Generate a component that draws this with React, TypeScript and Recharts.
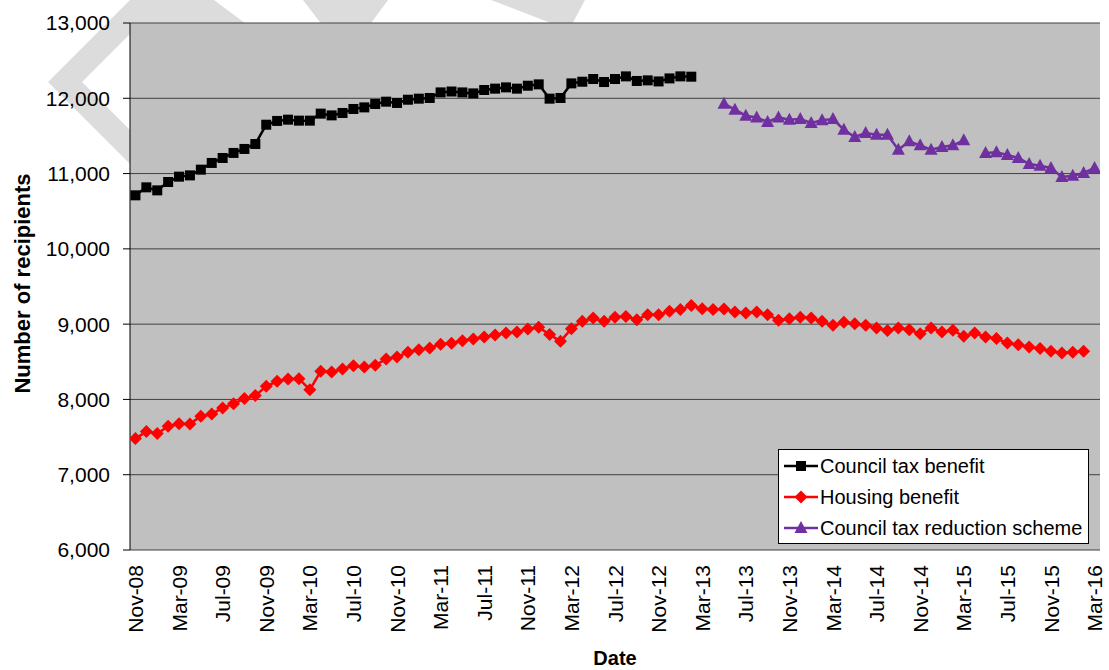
import React from 'react';
import { LineChart, Line, XAxis, YAxis, CartesianGrid, Legend } from 'recharts';

const months = [
  'Nov-08', 'Dec-08',
  'Jan-09', 'Feb-09', 'Mar-09', 'Apr-09', 'May-09', 'Jun-09', 'Jul-09', 'Aug-09', 'Sep-09', 'Oct-09', 'Nov-09', 'Dec-09',
  'Jan-10', 'Feb-10', 'Mar-10', 'Apr-10', 'May-10', 'Jun-10', 'Jul-10', 'Aug-10', 'Sep-10', 'Oct-10', 'Nov-10', 'Dec-10',
  'Jan-11', 'Feb-11', 'Mar-11', 'Apr-11', 'May-11', 'Jun-11', 'Jul-11', 'Aug-11', 'Sep-11', 'Oct-11', 'Nov-11', 'Dec-11',
  'Jan-12', 'Feb-12', 'Mar-12', 'Apr-12', 'May-12', 'Jun-12', 'Jul-12', 'Aug-12', 'Sep-12', 'Oct-12', 'Nov-12', 'Dec-12',
  'Jan-13', 'Feb-13', 'Mar-13', 'Apr-13', 'May-13', 'Jun-13', 'Jul-13', 'Aug-13', 'Sep-13', 'Oct-13', 'Nov-13', 'Dec-13',
  'Jan-14', 'Feb-14', 'Mar-14', 'Apr-14', 'May-14', 'Jun-14', 'Jul-14', 'Aug-14', 'Sep-14', 'Oct-14', 'Nov-14', 'Dec-14',
  'Jan-15', 'Feb-15', 'Mar-15', 'Apr-15', 'May-15', 'Jun-15', 'Jul-15', 'Aug-15', 'Sep-15', 'Oct-15', 'Nov-15', 'Dec-15',
  'Jan-16', 'Feb-16', 'Mar-16',
];

const tickLabels = [
  'Nov-08', 'Mar-09', 'Jul-09', 'Nov-09', 'Mar-10', 'Jul-10', 'Nov-10', 'Mar-11', 'Jul-11', 'Nov-11', 'Mar-12',
  'Jul-12', 'Nov-12', 'Mar-13', 'Jul-13', 'Nov-13', 'Mar-14', 'Jul-14', 'Nov-14', 'Mar-15', 'Jul-15', 'Nov-15', 'Mar-16',
];

const yTicks = [6000, 7000, 8000, 9000, 10000, 11000, 12000, 13000];

// Council tax benefit: Nov-08 .. Feb-13
const councilTaxBenefitStart = 'Nov-08';
const councilTaxBenefit = [
  10711, 10817, 10777, 10888, 10959, 10976, 11052, 11141, 11207, 11274, 11327, 11393,
  11649, 11699, 11716, 11703, 11703, 11796, 11773, 11805, 11858, 11879, 11924, 11955,
  11938, 11981, 11995, 12004, 12078, 12090, 12078, 12065, 12110, 12128, 12145, 12128,
  12167, 12185, 11995, 12004, 12198, 12220, 12256, 12216, 12256, 12291, 12230, 12238,
  12224, 12264, 12291, 12287,
];

// Housing benefit: Nov-08 .. Feb-16
const housingBenefitStart = 'Nov-08';
const housingBenefit = [
  7480, 7573, 7546, 7643, 7678, 7675, 7776, 7807, 7887, 7944, 8011, 8051,
  8174, 8241, 8272, 8276, 8130, 8373, 8365, 8405, 8449, 8431, 8453, 8538,
  8564, 8626, 8661, 8683, 8732, 8745, 8781, 8804, 8830, 8856, 8883, 8896,
  8936, 8958, 8861, 8772, 8940, 9037, 9082, 9037, 9090, 9103, 9060, 9126,
  9126, 9170, 9193, 9246, 9206, 9193, 9202, 9162, 9149, 9162, 9126, 9051,
  9073, 9090, 9082, 9037, 8984, 9024, 9006, 8984, 8950, 8914, 8950, 8927,
  8874, 8950, 8897, 8918, 8838, 8883, 8830, 8808, 8750, 8727, 8697, 8675,
  8639, 8617, 8626, 8639,
];

// Council tax reduction scheme: May-13 .. Mar-16 (no figure for Apr-15)
const ctrsStart = 'May-13';
const councilTaxReduction = [
  11928, 11849, 11769, 11746, 11685, 11746, 11716, 11725, 11672, 11707, 11725, 11583,
  11486, 11539, 11517, 11517, 11317, 11428, 11375, 11317, 11353, 11375, 11441, null,
  11274, 11282, 11247, 11207, 11128, 11105, 11074, 10955, 10972, 11008, 11074,
];

const seriesAt = (arr: (number | null)[], start: string, i: number) => {
  const k = i - months.indexOf(start);
  if (k < 0 || k >= arr.length) return null;
  return arr[k];
};

const data = months.map((m, i) => ({
  i,
  month: m,
  ctb: seriesAt(councilTaxBenefit, councilTaxBenefitStart, i),
  hb: seriesAt(housingBenefit, housingBenefitStart, i),
  ctrs: seriesAt(councilTaxReduction, ctrsStart, i),
}));

const labelIdx = tickLabels.map((l) => months.indexOf(l));
const edgeIdx = labelIdx.map((v) => v - 0.5);
const xDomain = [-0.5, months.length - 0.5];

const FONT = 'Liberation Sans, Arial, Helvetica, sans-serif';
const BLACK = '#000000';
const RED = '#FF0000';
const PURPLE = '#7030A0';

const SquareDot = (p: any) => {
  const { cx, cy, value } = p;
  if (cx == null || cy == null || value == null) return null;
  const s = 10;
  return <rect key={p.key} x={cx - s / 2} y={cy - s / 2} width={s} height={s} fill={BLACK} />;
};

const DiamondDot = (p: any) => {
  const { cx, cy, value } = p;
  if (cx == null || cy == null || value == null) return null;
  const r = 6.5;
  return (
    <polygon
      key={p.key}
      points={`${cx},${cy - r} ${cx + r},${cy} ${cx},${cy + r} ${cx - r},${cy}`}
      fill={RED}
    />
  );
};

const TriangleDot = (p: any) => {
  const { cx, cy, value } = p;
  if (cx == null || cy == null || value == null) return null;
  const w = 6.5;
  return (
    <polygon
      key={p.key}
      points={`${cx},${cy - 7} ${cx + w},${cy + 5} ${cx - w},${cy + 5}`}
      fill={PURPLE}
    />
  );
};

const EmptyTick = () => <g />;

const RotTick = (p: any) => {
  const { x, y, payload } = p;
  const label = months[Math.round(payload.value)];
  return (
    <text
      x={x}
      y={y}
      transform={`rotate(-90 ${x} ${y})`}
      textAnchor="end"
      dy="0.36em"
      fontSize={21}
      fill="#000"
      fontFamily={FONT}
    >
      {label}
    </text>
  );
};

const YLabel = (p: any) => {
  const vb = p.viewBox || {};
  const cx = 30;
  const cy = vb.y + vb.height / 2 - 3;
  return (
    <text
      x={cx}
      y={cy}
      transform={`rotate(-90 ${cx} ${cy})`}
      textAnchor="middle"
      fontSize={22}
      fontWeight="bold"
      fill="#000"
      fontFamily={FONT}
    >
      Number of recipients
    </text>
  );
};

const XLabel = (p: any) => {
  const vb = p.viewBox || {};
  return (
    <text
      x={vb.x + vb.width / 2}
      y={665}
      textAnchor="middle"
      fontSize={20}
      fontWeight="bold"
      fill="#000"
      fontFamily={FONT}
    >
      Date
    </text>
  );
};

const legendItems = [
  { name: 'Council tax benefit', color: BLACK, shape: 'square' },
  { name: 'Housing benefit', color: RED, shape: 'diamond' },
  { name: 'Council tax reduction scheme', color: PURPLE, shape: 'triangle' },
];

const LegendMarker = ({ color, shape }: { color: string; shape: string }) => (
  <svg width={34} height={20} style={{ display: 'block' }}>
    <line x1={0} y1={10} x2={34} y2={10} stroke={color} strokeWidth={2.5} />
    {shape === 'square' && <rect x={12} y={5} width={10} height={10} fill={color} />}
    {shape === 'diamond' && <polygon points="17,3.5 23.5,10 17,16.5 10.5,10" fill={color} />}
    {shape === 'triangle' && <polygon points="17,3 23.5,15 10.5,15" fill={color} />}
  </svg>
);

const renderLegend = () => (
  <div
    style={{
      width: 311,
      height: 95,
      boxSizing: 'border-box',
      border: '1px solid #000',
      background: '#fff',
      paddingLeft: 5,
      fontFamily: FONT,
      fontSize: 20,
      color: '#000',
    }}
  >
    {legendItems.map((it) => (
      <div key={it.name} style={{ display: 'flex', alignItems: 'center', height: 31, whiteSpace: 'nowrap' }}>
        <LegendMarker color={it.color} shape={it.shape} />
        <span style={{ marginLeft: 2, lineHeight: '20px' }}>{it.name}</span>
      </div>
    ))}
  </div>
);

const Watermark = () => (
  <svg
    width={1109}
    height={670}
    style={{ position: 'absolute', left: 0, top: 0 }}
  >
    <g fill="#dcdcdc">
      <polygon points="48,82 130,0 164,0 82,82 202,202 168,202" />
      <polygon points="140,0 214,0 254,30 112,30" />
      <polygon points="303,0 388,0 366,30 326,30" />
      <polygon points="491,0 585,0 569,30" />
    </g>
  </svg>
);

export default function App() {
  return (
    <div style={{ position: 'absolute', left: 0, top: 0, width: 1109, height: 670, background: '#fff' }}>
      <Watermark />
      <div style={{ position: 'absolute', left: 0, top: 0 }}>
        <LineChart
          width={1109}
          height={670}
          data={data}
          margin={{ top: 23, right: 9, bottom: 0, left: 0 }}
        >
          <CartesianGrid
            xAxisId="edges"
            horizontal
            vertical={false}
            stroke="#404040"
            fill="#C0C0C0"
            fillOpacity={1}
          />
          <XAxis
            xAxisId="edges"
            type="number"
            dataKey="i"
            domain={xDomain}
            ticks={edgeIdx}
            allowDataOverflow
            height={0}
            tick={EmptyTick}
            tickSize={6}
            tickLine={{ stroke: '#000' }}
            axisLine={{ stroke: '#000' }}
            interval={0}
          />
          <XAxis
            xAxisId="labels"
            type="number"
            dataKey="i"
            domain={xDomain}
            ticks={labelIdx}
            allowDataOverflow
            height={120}
            tickLine={false}
            axisLine={false}
            tickSize={6}
            tickMargin={9}
            tick={<RotTick />}
            interval={0}
            label={<XLabel />}
          />
          <YAxis
            type="number"
            domain={[6000, 13000]}
            ticks={yTicks}
            allowDataOverflow
            width={130}
            tickSize={7}
            tickMargin={13}
            tickLine={{ stroke: '#000' }}
            axisLine={{ stroke: '#000' }}
            tick={{ fontSize: 21, fill: '#000', fontFamily: FONT }}
            tickFormatter={(v: number) => v.toLocaleString('en-US')}
            interval={0}
            label={<YLabel />}
          />
          <Legend
            layout="vertical"
            verticalAlign="middle"
            align="center"
            content={renderLegend}
            wrapperStyle={{ left: 778, top: 449, width: 311, height: 95 }}
          />
          <Line
            xAxisId="edges"
            name="Council tax benefit"
            dataKey="ctb"
            stroke={BLACK}
            strokeWidth={2.5}
            dot={<SquareDot />}
            activeDot={false}
            isAnimationActive={false}
            connectNulls={false}
          />
          <Line
            xAxisId="edges"
            name="Housing benefit"
            dataKey="hb"
            stroke={RED}
            strokeWidth={2.5}
            dot={<DiamondDot />}
            activeDot={false}
            isAnimationActive={false}
            connectNulls={false}
          />
          <Line
            xAxisId="edges"
            name="Council tax reduction scheme"
            dataKey="ctrs"
            stroke={PURPLE}
            strokeWidth={2.5}
            dot={<TriangleDot />}
            activeDot={false}
            isAnimationActive={false}
            connectNulls={false}
          />
        </LineChart>
      </div>
    </div>
  );
}
